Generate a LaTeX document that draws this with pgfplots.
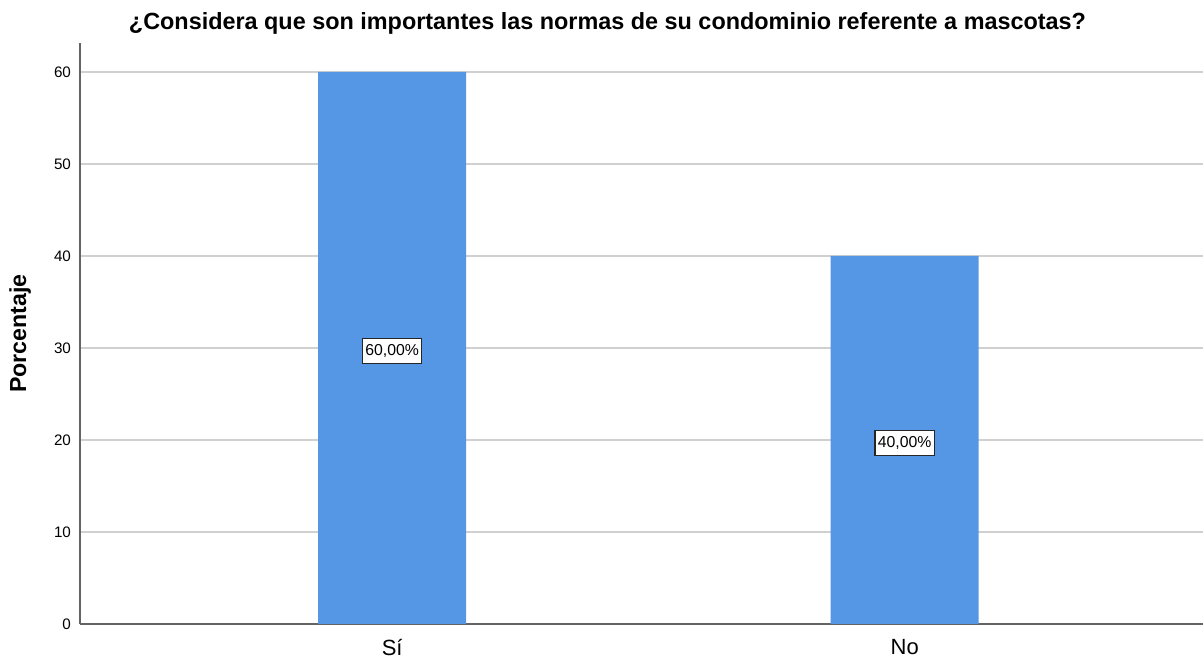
\documentclass[border=0pt]{standalone}
\usepackage{pgfplots}
\pgfplotsset{compat=1.18}
\usepackage{fontspec}
\setmainfont{Liberation Sans}
\definecolor{barblue}{RGB}{85,150,229}
\definecolor{gridgrey}{RGB}{208,208,208}
\definecolor{axisgrey}{RGB}{100,100,100}

\begin{document}
\begin{tikzpicture}
% fixed frame: 601.5pt x 328.5pt, axis box at the origin
\path[use as bounding box] (-40pt,-16.5pt) rectangle (561.5pt,312pt);
\begin{axis}[
    at={(0,0)}, anchor=south west,
    scale only axis, width=561.5pt, height=290.5pt,
    xmin=-0.609, xmax=1.582, ymin=0, ymax=63.15,
    axis x line*=bottom, axis y line*=left,
    axis line style={axisgrey, line width=0.8pt, -},
    ytick={0,10,...,60}, xtick={0,1}, xticklabels={Sí,No},
    major tick length=0pt,
    ymajorgrids, grid style={gridgrey, line width=0.8pt},
    /pgf/number format/assume math mode=true,
    yticklabel style={font=\fontsize{7.6}{9}\selectfont, xshift=-1pt},
    xticklabel style={font=\fontsize{11}{13}\selectfont, yshift=-4pt},
    every axis y label/.style={at={(axis description cs:-0.0534,0.5)}, rotate=90, anchor=center},
    ylabel={\fontsize{11.6}{13}\selectfont\bfseries Porcentaje},
    clip=false,
]
\addplot[ybar, bar width=74pt, fill=barblue, draw=none] coordinates {(0,60) (1,40)};
\addplot[only marks, mark=none, point meta=explicit symbolic,
    nodes near coords, nodes near coords align=center,
    every node near coord/.style={anchor=center, yshift=-1.5pt, fill=white,
      draw=black!85, line width=0.7pt,
      inner xsep=1.4pt, inner ysep=3pt, font=\fontsize{7.9}{9}\selectfont}]
  coordinates {(0,30) [60,00\%] (1,20) [40,00\%]};
\end{axis}
\node[font=\fontsize{11.7}{13}\selectfont\bfseries] at (263.75pt,300.5pt)
  {¿Considera que son importantes las normas de su condominio referente a mascotas?};
\end{tikzpicture}
\end{document}
